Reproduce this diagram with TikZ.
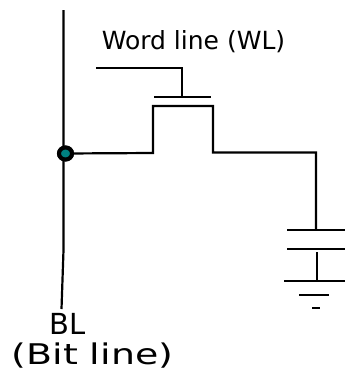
\documentclass[tikz,border=0pt]{standalone}
\usepackage{fontspec}
\setmainfont{DejaVu Sans}
\definecolor{dotteal}{RGB}{0,128,128}
\usetikzlibrary{shapes.geometric}
\tikzset{
  wire/.style={line width=2.2pt,black},
  thinwire/.style={line width=2pt,black},
  lab/.style={inner sep=0pt,anchor=base,text=black},
  pin/.style={ellipse,draw=black,line width=4pt,fill=dotteal,minimum width=13pt,minimum height=12pt,inner sep=0pt}
}
\begin{document}
\begin{tikzpicture}[x=1pt,y=-1pt]
\useasboundingbox (0,0) rectangle (345,372);
\coordinate (bltop) at (63.5,10);
\coordinate (blmid) at (63.5,250);
\coordinate (blbot) at (61.5,309);
\node[pin] (junction) at (65.5,153.5) {};
\coordinate (d1) at (153,153);
\coordinate (d2) at (153,106);
\coordinate (d3) at (213,106);
\coordinate (d4) at (213,152.5);
\coordinate (d5) at (316,152.5);
\coordinate (d6) at (316,229.5);
\coordinate (wl1) at (96,67.5);
\coordinate (wl2) at (182,67.5);
\coordinate (wl3) at (182,97);
\coordinate (g1) at (154,97);
\coordinate (g2) at (211,97);
\coordinate (c1a) at (287,229.5);
\coordinate (c1b) at (345,229.5);
\coordinate (c2a) at (287,248.5);
\coordinate (c2b) at (345,248.5);
\coordinate (s1) at (316.5,252);
\coordinate (s2) at (316.5,281);
\coordinate (g3a) at (284,281);
\coordinate (g3b) at (345,281);
\coordinate (g4a) at (299,294.5);
\coordinate (g4b) at (329,294.5);
\coordinate (g5a) at (312,307.5);
\coordinate (g5b) at (320,307.5);
\draw[wire] (bltop) -- (blmid) -- (blbot);
\draw[wire] (junction) -- (d1) -- (d2) -- (d3) -- (d4) -- (d5) -- (d6);
\draw[thinwire] (wl1) -- (wl2) -- (wl3);
\draw[thinwire] (g1) -- (g2);
\draw[thinwire] (c1a) -- (c1b);
\draw[thinwire] (c2a) -- (c2b);
\draw[thinwire] (s1) -- (s2);
\draw[thinwire] (g3a) -- (g3b);
\draw[thinwire] (g4a) -- (g4b);
\draw[thinwire] (g5a) -- (g5b);
\node[pin] at (junction) {};
\node[lab,font=\fontsize{25pt}{28pt}\selectfont] (wltext) at (193.5,49) {Word line (WL)};
\node[lab,font=\fontsize{29pt}{32pt}\selectfont] (bltext) at (67.5,334) {BL};
\node[lab,xscale=1.33,font=\fontsize{28.5pt}{32pt}\selectfont] (bittext) at (92.5,364) {(Bit line)};
\end{tikzpicture}
\end{document}
